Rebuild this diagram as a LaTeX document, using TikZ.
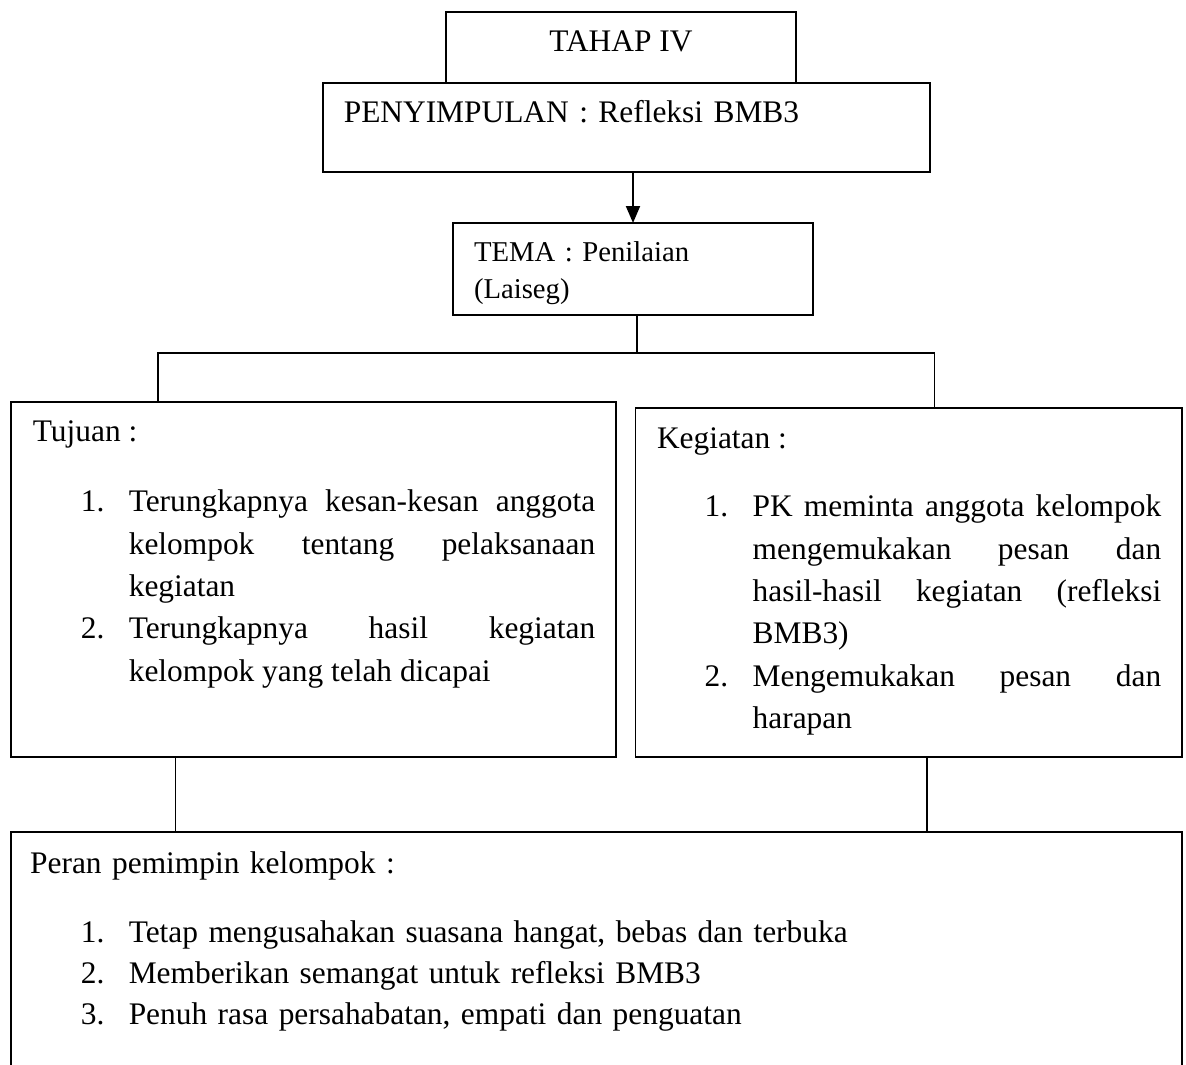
\documentclass[tikz,border=0pt]{standalone}
\usepackage{fontspec}
\setmainfont{Liberation Serif}
\usetikzlibrary{arrows.meta,positioning}
\newcommand{\butir}[2]{\par\noindent\hangindent=48pt\hangafter=1\makebox[48pt][l]{#1}#2}

\begin{document}
\begin{tikzpicture}[x=1pt, y=-1pt,
    blok/.style={draw, line width=1.9pt, inner sep=0pt, outer sep=0pt, anchor=north west,
      font=\fontsize{31.4}{42.3}\selectfont},
    isi/.style={inner sep=0pt, anchor=north west, text width=#1, align=justify,
      font=\fontsize{31.4}{42.3}\selectfont,
      execute at begin node={\tolerance=10000\relax\hbadness=10000\relax
        \hyphenpenalty=10000\relax\exhyphenpenalty=10000\relax\setlength{\parskip}{0pt}}},
    link/.style={line width=1.9pt}]
  \useasboundingbox (0,0) rectangle (1186,1065);

  \node[blok, minimum width=350.7pt, text height=40pt, text depth=31pt] (tahap) at (445.6,11.7) {TAHAP IV};
  \node[blok, text width=565.2pt, inner xsep=21pt, align=left, text height=40pt, text depth=49.6pt] (simpul) at (322.8,82.7) {PENYIMPULAN : Refleksi BMB3};
  \node[blok, text width=318pt, inner xsep=21pt, align=left, minimum height=92pt,
    font=\fontsize{28.7}{37}\selectfont] (tema) at (453,223) {\rule{0pt}{27.4pt}TEMA : Penilaian\\(Laiseg)};

  \node[blok, minimum width=605pt, minimum height=355pt] (tujuan) at (11,402) {};
  \node[blok, minimum width=546.5pt, minimum height=349pt] (kegiatan) at (635.5,408) {};
  \node[blok, minimum width=1171.4pt, minimum height=260pt] (peran) at (10.6,831.7) {};

  \node[isi=562.3pt, below right=10.1pt and 21.7pt of tujuan.north west] (tujuanisi) {%
    \noindent\strut Tujuan :\par\vspace{27.7pt}\leftskip=47.9pt
    \butir{1.}{Terungkapnya kesan-kesan anggota\linebreak kelompok tentang pelaksanaan\linebreak kegiatan}
    \butir{2.}{Terungkapnya hasil kegiatan\linebreak kelompok yang telah dicapai}\par};
  \node[isi=504.2pt, below right=10.4pt and 21.3pt of kegiatan.north west] (kegiatanisi) {%
    \noindent\strut Kegiatan :\par\vspace{26.4pt}\leftskip=47.7pt
    \butir{1.}{PK meminta anggota kelompok\linebreak mengemukakan pesan dan\linebreak hasil-hasil kegiatan (refleksi\linebreak BMB3)}
    \butir{2.}{Mengemukakan pesan dan\linebreak harapan}\par};
  \node[isi=1130pt, align=left, font=\fontsize{31.4}{41}\selectfont,
    below right=12.6pt and 19.4pt of peran.north west] (peranisi) {%
    \noindent\strut Peran pemimpin kelompok :\par\vspace{28.7pt}\leftskip=50.6pt
    \butir{1.}{Tetap mengusahakan suasana hangat, bebas dan terbuka}
    \butir{2.}{Memberikan semangat untuk refleksi BMB3}
    \butir{3.}{Penuh rasa persahabatan, empati dan penguatan}\par};

  % penghubung
  \draw[link, -{Triangle[length=17pt,width=14pt]}] (simpul.south -| tema.north) -- (tema.north);
  \coordinate (cabang) at (637,353);
  \coordinate (kiri) at (158,353);
  \coordinate (kanan) at (934.5,353);
  \draw[link] (tema.south -| cabang) -- (cabang);
  \draw[link] (tujuan.north -| kiri) -- (kiri) -- (kanan) -- (kegiatan.north -| kanan);
  \coordinate (turunkiri) at (175.5,790);
  \coordinate (turunkanan) at (927,790);
  \draw[link] (tujuan.south -| turunkiri) -- (peran.north -| turunkiri);
  \draw[link] (kegiatan.south -| turunkanan) -- (peran.north -| turunkanan);
\end{tikzpicture}
\end{document}
